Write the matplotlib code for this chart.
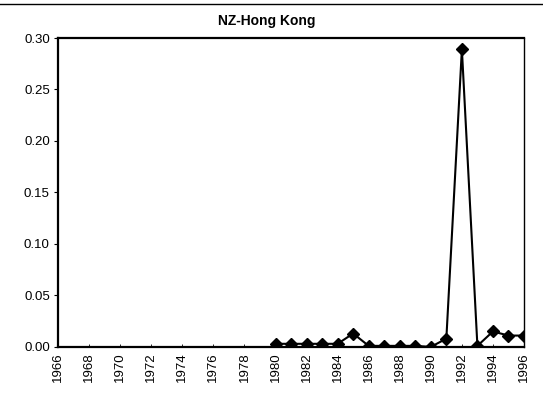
import matplotlib
matplotlib.use('Agg')
import matplotlib.pyplot as plt
from matplotlib.lines import Line2D

# data (share, by year)
years = list(range(1980, 1997))
values = [0.003, 0.003, 0.003, 0.003, 0.003, 0.013, 0.001, 0.001, 0.001, 0.001,
          0.0, 0.008, 0.289, 0.001, 0.015, 0.011, 0.011]
tick_years = list(range(1966, 1997, 2))
y_ticks = [0.00, 0.05, 0.10, 0.15, 0.20, 0.25, 0.30]
title = 'NZ-Hong Kong'

plt.rcParams['font.family'] = ['Liberation Sans', 'DejaVu Sans']

fig = plt.figure(figsize=(5.43, 3.96), dpi=100)
ax = fig.add_axes([0.107, 0.124, 0.858, 0.780])

# the line with diamond markers
ax.plot(years, values, color='black', linewidth=1.5,
        marker='D', markersize=6, markerfacecolor='black', markeredgecolor='black')

# axes limits and ticks
ax.set_xlim(1966, 1996)
ax.set_ylim(0, 0.30)
ax.set_xticks(tick_years)
ax.set_xticklabels([str(y) for y in tick_years], rotation=90, fontsize=9.5)
ax.set_yticks(y_ticks)
ax.set_yticklabels([f'{v:.2f}' for v in y_ticks], fontsize=9.5)
ax.tick_params(axis='y', direction='out', length=3, width=0.8, pad=3)
ax.tick_params(axis='x', direction='in', length=2, width=0.6, pad=4)

# frame like the scanned excel chart
for side in ['left', 'bottom', 'top']:
    ax.spines[side].set_linewidth(1.6)
ax.spines['right'].set_linewidth(1.0)

# title sits a bit left of the axes centre in the scan
fig.text(0.492, 0.948, title, fontsize=10, fontweight='bold', ha='center', va='center')

# top rule of the scanned page
fig.add_artist(Line2D([0.0, 1.0], [0.99, 0.99], color='black', linewidth=1.0,
                      transform=fig.transFigure))

fig.savefig('out.png', dpi=100)
